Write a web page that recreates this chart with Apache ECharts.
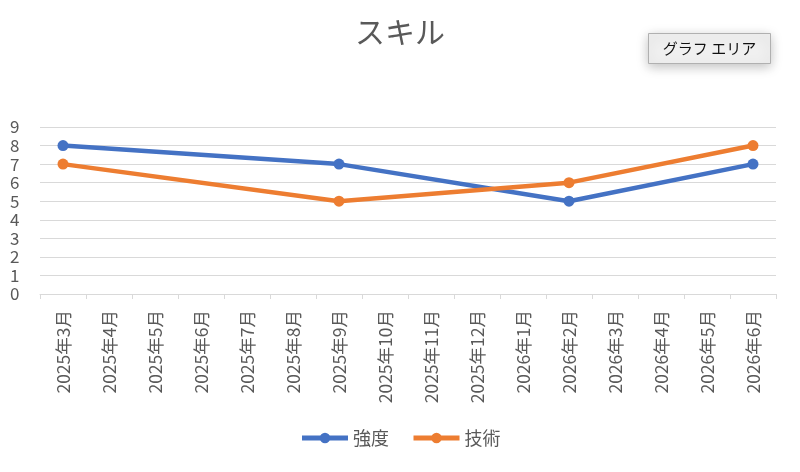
<!DOCTYPE html>
<html><head><meta charset="utf-8">
<script src="https://cdn.jsdelivr.net/npm/echarts@6/dist/echarts.min.js"></script>
<style>html,body{margin:0;padding:0;background:#fff}#c{width:800px;height:472px}</style>
</head><body><div id="c"></div>
<script>
const categories = ['2025年3月','2025年4月','2025年5月','2025年6月','2025年7月','2025年8月','2025年9月','2025年10月','2025年11月','2025年12月','2026年1月','2026年2月','2026年3月','2026年4月','2026年5月','2026年6月'];
const strength = [8,null,null,null,null,null,7,null,null,null,null,5,null,null,null,7];
const skill = [7,null,null,null,null,null,5,null,null,null,null,6,null,null,null,8];
const yTicks = [0,1,2,3,4,5,6,7,8,9];

const chart = echarts.init(document.getElementById('c'));
const font = '"Noto Sans CJK JP", "Noto Sans", sans-serif';
chart.setOption({
  animation: false,
  title: { text: 'スキル', left: 'center', top: 12, textStyle: { fontFamily: font, fontSize: 30, fontWeight: 'normal', color: '#595959' } },
  grid: { left: 40, right: 24, top: 127, bottom: 178, containLabel: false },
  xAxis: {
    type: 'category', data: categories, boundaryGap: true,
    axisLine: { lineStyle: { color: '#d9d9d9', width: 1 } },
    axisTick: { show: true, alignWithLabel: false, length: 5, lineStyle: { color: '#d9d9d9' } },
    axisLabel: { rotate: 90, interval: 0, fontFamily: font, fontSize: 17.5, color: '#595959', margin: 16 }
  },
  yAxis: {
    type: 'value', min: yTicks[0], max: yTicks[yTicks.length-1], interval: 1,
    axisLine: { show: false }, axisTick: { show: false },
    splitLine: { lineStyle: { color: '#d9d9d9', width: 1 } },
    axisLabel: { fontFamily: font, fontSize: 17, color: '#595959', margin: 30, align: 'left' }
  },
  legend: {
    bottom: 20, left: 'center', itemWidth: 46, itemHeight: 13, itemGap: 22,
    lineStyle: { width: 5 },
    textStyle: { fontFamily: font, fontSize: 18, color: '#595959' },
    data: ['強度','技術']
  },
  series: [
    { name: '強度', type: 'line', data: strength, connectNulls: true, symbol: 'circle', symbolSize: 11,
      lineStyle: { width: 4.5, color: '#4472C4' }, itemStyle: { color: '#4472C4' } },
    { name: '技術', type: 'line', data: skill, connectNulls: true, symbol: 'circle', symbolSize: 11,
      lineStyle: { width: 4.5, color: '#ED7D31' }, itemStyle: { color: '#ED7D31' } }
  ],
  graphic: [{
    type: 'group', left: 648, top: 33,
    children: [
      { type: 'rect', shape: { x: 0, y: 0, width: 122, height: 30 },
        style: { fill: '#f0f0f0', stroke: '#b0b0b0', lineWidth: 1, shadowBlur: 12, shadowColor: 'rgba(0,0,0,0.25)', shadowOffsetY: 3 } },
      { type: 'text', x: 61, y: 15,
        style: { text: 'グラフ エリア', align: 'center', verticalAlign: 'middle', fontFamily: font, fontSize: 15, fill: '#111' } }
    ]
  }]
});
</script></body></html>
